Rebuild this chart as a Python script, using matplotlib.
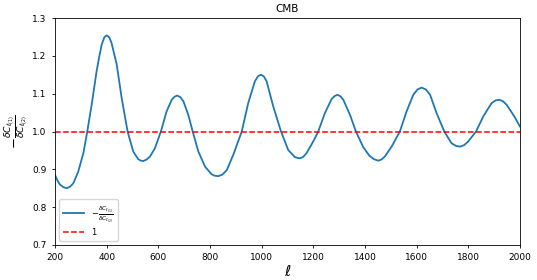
import matplotlib
matplotlib.use('Agg')
import matplotlib.pyplot as plt

# multipoles and ratio
ell = [200, 210, 219, 232, 245, 258, 271, 290, 310, 325, 342, 361, 372, 381,
       391, 400, 410, 419, 439, 458, 481, 503, 522, 532, 542, 555, 568, 587,
       610, 632, 652, 663, 673, 685, 697, 716, 733, 755, 781, 806, 819, 832,
       848, 865, 890, 923, 948, 974, 986, 997, 1008, 1019, 1045, 1075, 1103,
       1129, 1148, 1161, 1174, 1200, 1219, 1245, 1271, 1283, 1294, 1305, 1316,
       1342, 1365, 1393, 1417, 1434, 1451, 1464, 1477, 1503, 1535, 1561, 1587,
       1603, 1619, 1636, 1652, 1677, 1707, 1735, 1752, 1768, 1784, 1800, 1830,
       1858, 1890, 1905, 1920, 1934, 1948, 1978, 2000]
ratio = [0.885, 0.870, 0.860, 0.853, 0.850, 0.854, 0.863, 0.894, 0.943, 1.000,
         1.071, 1.159, 1.200, 1.230, 1.249, 1.254, 1.249, 1.234, 1.177, 1.089,
         1.000, 0.947, 0.927, 0.923, 0.922, 0.926, 0.934, 0.956, 1.000, 1.053,
         1.084, 1.092, 1.095, 1.091, 1.080, 1.044, 1.000, 0.947, 0.907, 0.887,
         0.883, 0.882, 0.886, 0.898, 0.938, 1.000, 1.075, 1.133, 1.146, 1.150,
         1.146, 1.133, 1.066, 1.000, 0.951, 0.932, 0.929, 0.933, 0.943, 0.974,
         1.000, 1.049, 1.086, 1.094, 1.097, 1.093, 1.084, 1.044, 1.000, 0.959,
         0.936, 0.927, 0.923, 0.926, 0.934, 0.960, 1.000, 1.053, 1.097, 1.111,
         1.116, 1.111, 1.097, 1.049, 1.000, 0.969, 0.962, 0.960, 0.964, 0.974,
         1.000, 1.040, 1.075, 1.082, 1.084, 1.080, 1.071, 1.040, 1.013]
x_ticks = [200, 400, 600, 800, 1000, 1200, 1400, 1600, 1800, 2000]
y_ticks = [0.7, 0.8, 0.9, 1.0, 1.1, 1.2, 1.3]

frac = r'$-\frac{\delta C_{\ell_{(1)}}}{\delta C_{\ell_{(2)}}}$'

fig = plt.figure(figsize=(5.37, 2.8), dpi=100)
ax = fig.add_axes([0.1024, 0.125, 0.8659, 0.8107])

ax.plot(ell, ratio, color='tab:blue', lw=1.3, label=frac)
ax.axhline(1, color='red', ls='--', lw=1.1, label='1')

ax.set_xlim(200, 2000)
ax.set_ylim(0.7, 1.3)
ax.set_xticks(x_ticks)
ax.set_yticks(y_ticks)
ax.tick_params(labelsize=6.5, length=2.5, width=0.6)
for s in ax.spines.values():
    s.set_linewidth(0.6)

ax.set_title('CMB', fontsize=7.5, pad=4)
ax.set_xlabel(r'$\ell$', fontsize=11, labelpad=1)
ax.set_ylabel(frac, fontsize=9.5)
ax.yaxis.set_label_coords(-0.05, 0.5)
ax.legend(loc='lower left', fontsize=6, handlelength=2.5, borderpad=0.5)

fig.savefig('out.png', dpi=100)
